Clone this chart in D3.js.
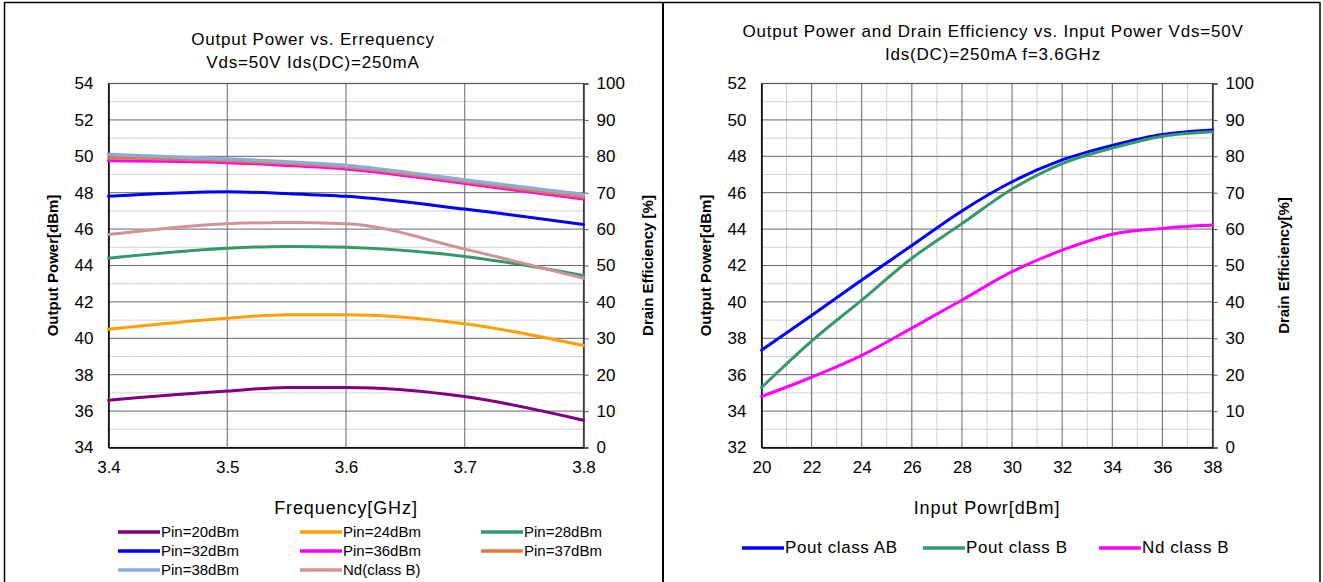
<!DOCTYPE html>
<html>
<head>
<meta charset="utf-8">
<script src="https://cdn.jsdelivr.net/npm/d3@7"></script>
<style>
  body { margin: 0; background: #fff; }
  svg { display: block; }
  .tick text { font-family: "Liberation Sans", Arial, sans-serif; font-size: 17px; fill: #000; }
</style>
</head>
<body>
<div id="chart"></div>
<script>
// Left chart: output power vs frequency
const freqs = [3.4, 3.5, 3.55, 3.6, 3.7, 3.8];
const pin20 = [36.6, 37.1, 37.3, 37.3, 36.8, 35.5];
const pin24 = [40.5, 41.1, 41.3, 41.3, 40.8, 39.6];
const pin28 = [44.4, 44.95, 45.05, 45.0, 44.5, 43.45];
const pin32 = [47.8, 48.05, 47.95, 47.8, 47.1, 46.25];
const pin36 = [49.75, 49.65, 49.5, 49.3, 48.5, 47.65];
const pin37 = [49.9, 49.75, 49.6, 49.4, 48.6, 47.75];
const pin38 = [50.1, 49.85, 49.7, 49.5, 48.7, 47.9];
const ndClassB = [58.5, 61.5, 61.8, 61.5, 54.5, 46.5]; // drain efficiency %

// Right chart: output power / efficiency vs input power
const pinLevels = [20, 22, 24, 26, 28, 30, 32, 34, 36, 38];
const poutAB = [37.35, 39.25, 41.2, 43.1, 45.0, 46.6, 47.8, 48.6, 49.2, 49.45];
const poutB = [35.3, 37.85, 40.1, 42.4, 44.3, 46.2, 47.6, 48.45, 49.1, 49.35];
const ndB = [14, 19.3, 25.3, 32.8, 40.5, 48.3, 54.2, 58.6, 60.2, 61.1]; // %

const W = 1323, H = 582;
const svg = d3.select("#chart").append("svg")
    .attr("width", W).attr("height", H);

// panel borders
svg.append("line").attr("x1", 4).attr("x2", 1320).attr("y1", 2.5).attr("y2", 2.5).attr("stroke", "#000").attr("stroke-width", 1.5);
svg.append("line").attr("x1", 4.5).attr("x2", 4.5).attr("y1", 2).attr("y2", H).attr("stroke", "#000").attr("stroke-width", 1.5);
svg.append("line").attr("x1", 663).attr("x2", 663).attr("y1", 2).attr("y2", H).attr("stroke", "#000").attr("stroke-width", 2);
svg.append("line").attr("x1", 1320).attr("x2", 1320).attr("y1", 2).attr("y2", H).attr("stroke", "#000").attr("stroke-width", 1.5);

const titleFont = "'Liberation Sans', Arial, sans-serif";

function drawPanel(cfg) {
    const g = svg.append("g");
    const x = d3.scaleLinear().domain(cfg.xDomain).range([cfg.left, cfg.right]);
    const y = d3.scaleLinear().domain(cfg.yDomain).range([cfg.bottom, cfg.top]);
    const y2 = d3.scaleLinear().domain([0, 100]).range([cfg.bottom, cfg.top]);

    // minor dotted grid (horizontal)
    g.append("g").selectAll("line")
        .data(d3.range(cfg.yDomain[0] + 1, cfg.yDomain[1], 2))
        .join("line")
        .attr("x1", cfg.left).attr("x2", cfg.right)
        .attr("y1", d => y(d)).attr("y2", d => y(d))
        .attr("stroke", "#aaa").attr("stroke-dasharray", "2,1").attr("stroke-width", 0.8);

    if (cfg.xMinor) {
        g.append("g").selectAll("line")
            .data(cfg.xMinor)
            .join("line")
            .attr("x1", d => x(d)).attr("x2", d => x(d))
            .attr("y1", cfg.top).attr("y2", cfg.bottom)
            .attr("stroke", "#aaa").attr("stroke-dasharray", "2,1").attr("stroke-width", 0.8);
    }

    // major grid
    g.append("g").selectAll("line")
        .data(cfg.yTicks)
        .join("line")
        .attr("x1", cfg.left).attr("x2", cfg.right)
        .attr("y1", d => y(d)).attr("y2", d => y(d))
        .attr("stroke", "#666").attr("stroke-width", 1);
    g.append("g").selectAll("line")
        .data(cfg.xTicks)
        .join("line")
        .attr("x1", d => x(d)).attr("x2", d => x(d))
        .attr("y1", cfg.top).attr("y2", cfg.bottom)
        .attr("stroke", "#666").attr("stroke-width", 1);

    // frame
    g.append("rect")
        .attr("x", cfg.left).attr("y", cfg.top)
        .attr("width", cfg.right - cfg.left).attr("height", cfg.bottom - cfg.top)
        .attr("fill", "none").attr("stroke", "#555").attr("stroke-width", 1.2);

    // axes
    g.append("g")
        .attr("transform", `translate(${cfg.left},0)`)
        .call(d3.axisLeft(y).tickValues(cfg.yTicks).tickSize(0).tickPadding(cfg.leftPad).tickFormat(d3.format("d")))
        .call(a => a.select(".domain").attr("stroke", "#000").attr("stroke-width", 1.5));
    g.append("g")
        .attr("transform", `translate(${cfg.right},0)`)
        .call(d3.axisRight(y2).tickValues(d3.range(0, 101, 10)).tickSize(5).tickPadding(8).tickFormat(d3.format("d")))
        .call(a => a.select(".domain").attr("stroke", "#333").attr("stroke-width", 1.5))
        .call(a => a.selectAll(".tick line").attr("stroke", "#555"));
    g.append("g")
        .attr("transform", `translate(0,${cfg.bottom})`)
        .call(d3.axisBottom(x).tickValues(cfg.xTicks).tickSize(0).tickPadding(13).tickFormat(cfg.xFormat))
        .call(a => a.select(".domain").attr("stroke", "#000").attr("stroke-width", 1.5));

    // titles
    cfg.title.forEach((t, i) => {
        g.append("text")
            .attr("x", cfg.titleX).attr("y", cfg.titleY + i * 23)
            .attr("text-anchor", "middle")
            .style("font-family", titleFont).style("font-size", "17px")
            .style("letter-spacing", "0.8px")
            .text(t);
    });
    g.append("text")
        .attr("x", (cfg.left + cfg.right) / 2).attr("y", cfg.bottom + 66)
        .attr("text-anchor", "middle")
        .style("font-family", titleFont).style("font-size", "18px")
        .style("letter-spacing", "0.9px")
        .text(cfg.xLabel);
    g.append("text")
        .attr("transform", `translate(${cfg.yLabelX},${(cfg.top + cfg.bottom) / 2}) rotate(-90)`)
        .attr("text-anchor", "middle")
        .style("font-family", titleFont).style("font-size", "15px").style("font-weight", "bold")
        .text("Output Power[dBm]");
    g.append("text")
        .attr("transform", `translate(${cfg.y2LabelX},${(cfg.top + cfg.bottom) / 2}) rotate(-90)`)
        .attr("text-anchor", "middle")
        .style("font-family", titleFont).style("font-size", "15px").style("font-weight", "bold")
        .text(cfg.y2Label);

    // series
    cfg.series.forEach(s => {
        const ys = s.axis === 2 ? y2 : y;
        const line = d3.line()
            .x((d, i) => x(cfg.xs[i]))
            .y(d => ys(d))
            .curve(d3.curveMonotoneX);
        g.append("path")
            .datum(s.values)
            .attr("d", line)
            .attr("fill", "none")
            .attr("stroke", s.color)
            .attr("stroke-width", s.width || 3)
            .attr("stroke-linecap", "round");
    });

    // legend
    cfg.series.forEach((s, i) => {
        const lx = cfg.legendX[i % cfg.legendCols];
        const ly = cfg.legendY + Math.floor(i / cfg.legendCols) * 19;
        g.append("line")
            .attr("x1", lx).attr("x2", lx + 42)
            .attr("y1", ly).attr("y2", ly)
            .attr("stroke", s.color).attr("stroke-width", 3.5);
        g.append("text")
            .attr("x", lx + 43).attr("y", ly + 5)
            .style("font-family", titleFont).style("font-size", cfg.legendFont)
            .style("letter-spacing", cfg.legendSpacing)
            .text(s.name);
    });
}

drawPanel({
    xDomain: [3.4, 3.8], yDomain: [34, 54],
    left: 108.5, right: 583.5, top: 83.5, bottom: 447.5,
    xs: freqs,
    xTicks: [3.4, 3.5, 3.6, 3.7, 3.8],
    yTicks: d3.range(34, 55, 2),
    xFormat: d3.format(".1f"),
    leftPad: 15,
    title: ["Output Power vs. Errequency", "Vds=50V Ids(DC)=250mA"],
    titleX: 313, titleY: 45,
    xLabel: "Frequency[GHz]",
    yLabelX: 58, y2LabelX: 653,
    y2Label: "Drain Efficiency [%]",
    series: [
        { name: "Pin=20dBm", values: pin20, color: "#800080" },
        { name: "Pin=24dBm", values: pin24, color: "#ffa000" },
        { name: "Pin=28dBm", values: pin28, color: "#339966" },
        { name: "Pin=32dBm", values: pin32, color: "#0000ff" },
        { name: "Pin=36dBm", values: pin36, color: "#ff00ff" },
        { name: "Pin=37dBm", values: pin37, color: "#e07b39" },
        { name: "Pin=38dBm", values: pin38, color: "#8eaadb", width: 3.5 },
        { name: "Nd(class B)", values: ndClassB, color: "#d09494", axis: 2 }
    ],
    legendCols: 3, legendX: [118, 300, 481], legendY: 532,
    legendFont: "15px", legendSpacing: "0px"
});

drawPanel({
    xDomain: [20, 38], yDomain: [32, 52],
    left: 761.5, right: 1212.5, top: 83.5, bottom: 447.5,
    xs: pinLevels,
    xTicks: d3.range(20, 39, 2),
    xMinor: d3.range(21, 38, 2),
    yTicks: d3.range(32, 53, 2),
    xFormat: d3.format("d"),
    leftPad: 15,
    title: ["Output Power and Drain Efficiency vs. Input Power Vds=50V", "Ids(DC)=250mA f=3.6GHz"],
    titleX: 993, titleY: 37,
    xLabel: "Input Powr[dBm]",
    yLabelX: 711, y2LabelX: 1289,
    y2Label: "Drain Efficiency[%]",
    series: [
        { name: "Pout class AB", values: poutAB, color: "#0000ff" },
        { name: "Pout class B", values: poutB, color: "#339966" },
        { name: "Nd class B", values: ndB, color: "#ff00ff", axis: 2 }
    ],
    legendCols: 3, legendX: [742, 923, 1099], legendY: 548,
    legendFont: "17px", legendSpacing: "0.6px"
});
</script>
</body>
</html>
